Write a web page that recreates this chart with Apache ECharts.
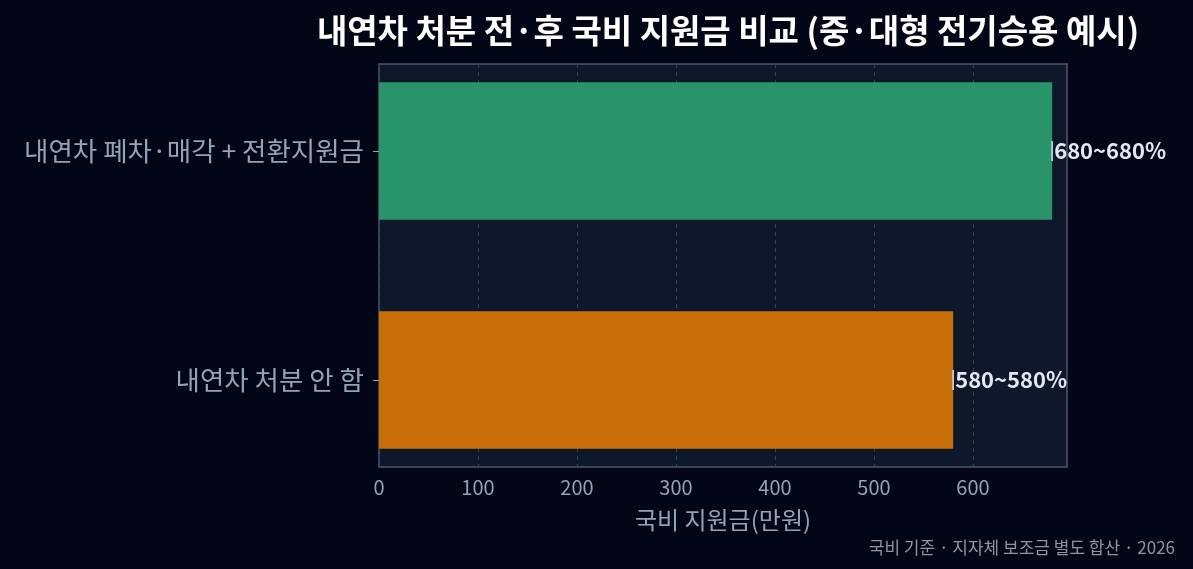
<!DOCTYPE html>
<html><head><meta charset="utf-8">
<script src="https://cdn.jsdelivr.net/npm/echarts@6/dist/echarts.min.js"></script>
<style>html,body{margin:0;padding:0;background:#020617;}#c{width:1193px;height:569px;}</style>
</head><body><div id="c"></div>
<script>
const categories = ['내연차 폐차·매각 + 전환지원금', '내연차 처분 안 함'];
const values = [680, 580];
const lows = [680, 580];
const highs = [680, 580];
const labels = ['680~680%', '580~580%'];
const barColors = ['#29946a', '#c66f08'];
const xTicks = [0, 100, 200, 300, 400, 500, 600];
const titleText = '내연차 처분 전·후 국비 지원금 비교 (중·대형 전기승용 예시)';
const xName = '국비 지원금(만원)';
const footnote = '국비 기준 · 지자체 보조금 별도 합산 · 2026';

const FONT = '"Noto Sans CJK KR", "Noto Sans", sans-serif';
const chart = echarts.init(document.getElementById('c'), null, {renderer: 'canvas'});

const barData = values.map((v, i) => [i, v]);
const errData = values.map((v, i) => [i, lows[i], highs[i]]);

chart.setOption({
  backgroundColor: '#020617',
  animation: false,
  title: [{
    text: titleText, left: 723, top: 9, textAlign: 'center',
    textStyle: {color: '#ffffff', fontSize: 33, fontWeight: 'bold', fontFamily: FONT}
  }, {
    text: footnote, right: 13, top: 534,
    textStyle: {color: '#8b95a5', fontSize: 17, fontWeight: 'normal', fontFamily: FONT}
  }],
  grid: {left: 379, top: 64, right: 126, bottom: 102, show: true,
    backgroundColor: '#0f172a', borderColor: '#4b5a6e', borderWidth: 1.5},
  xAxis: {
    type: 'value', min: 0, max: 695,
    name: xName, nameLocation: 'middle', nameGap: 41,
    nameTextStyle: {color: '#94a3b8', fontSize: 24, fontFamily: FONT},
    axisLine: {show: false},
    axisTick: {show: true, length: 6, lineStyle: {color: '#94a3b8'}, customValues: xTicks},
    axisLabel: {color: '#94a3b8', fontSize: 20, margin: 10, fontFamily: FONT, customValues: xTicks},
    splitLine: {show: true, lineStyle: {color: '#334155', type: [4, 4], width: 1}}
  },
  yAxis: {
    type: 'value', min: -0.38, max: 1.38, inverse: true,
    axisLine: {show: false},
    axisTick: {show: true, length: 6, lineStyle: {color: '#94a3b8'}, customValues: [0, 1]},
    axisLabel: {color: '#94a3b8', fontSize: 26.5, margin: 15, fontFamily: FONT, customValues: [0, 1],
      formatter: v => categories[Math.round(v)]},
    splitLine: {show: false}
  },
  series: [{
    type: 'custom',
    data: barData,
    encode: {x: 1, y: 0},
    renderItem: (params, api) => {
      const i = api.value(0), v = api.value(1);
      const p0 = api.coord([0, i]);
      const p1 = api.coord([v, i]);
      const h = Math.abs(api.size([0, 0.6])[1]);
      return {type: 'rect', shape: {x: p0[0], y: p0[1] - h / 2, width: p1[0] - p0[0], height: h},
        style: {fill: barColors[i]}};
    }
  }, {
    type: 'custom',
    data: errData,
    encode: {x: [1, 2], y: 0},
    renderItem: (params, api) => {
      const i = api.value(0);
      const a = api.coord([api.value(1), i]);
      const b = api.coord([api.value(2), i]);
      const cap = 10;
      const st = {stroke: '#cbd5e1', lineWidth: 1.5, opacity: 0.8};
      return {type: 'group', children: [
        {type: 'line', shape: {x1: a[0], y1: a[1], x2: b[0], y2: b[1]}, style: st},
        {type: 'line', shape: {x1: a[0], y1: a[1] - cap, x2: a[0], y2: a[1] + cap}, style: st},
        {type: 'line', shape: {x1: b[0], y1: b[1] - cap, x2: b[0], y2: b[1] + cap}, style: st},
        {type: 'text', x: b[0] + 2, y: b[1], style: {text: labels[i], fill: '#e2e8f0', fontSize: 22, fontWeight: 'bold',
          fontFamily: FONT, align: 'left', verticalAlign: 'middle'}}
      ]};
    }
  }]
});
</script></body></html>
